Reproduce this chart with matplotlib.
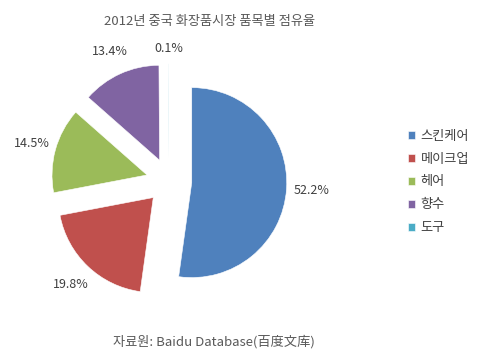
import matplotlib
matplotlib.use("Agg")
import matplotlib.pyplot as plt

plt.rcParams['font.family'] = ['Noto Sans CJK KR', 'DejaVu Sans']

# 데이터
categories = ["스킨케어", "메이크업", "헤어", "향수", "도구"]
shares = [52.2, 19.8, 14.5, 13.4, 0.1]
colors = ["#4F81BD", "#C0504D", "#9BBB59", "#8064A2", "#4BACC6"]
title = "2012년 중국 화장품시장 품목별 점유율"
source = "자료원: Baidu Database(百度文库)"

fig = plt.figure(figsize=(4.85, 3.61), dpi=100)
ax = fig.add_axes([17 / 485, 28 / 361, 304 / 485, 304 / 361])

wedges, texts, autotexts = ax.pie(
    shares,
    colors=colors,
    explode=[0.24] * len(shares),
    startangle=90,
    counterclock=False,
    autopct="%.1f%%",
    pctdistance=1.26,
    radius=1.0,
    wedgeprops=dict(linewidth=0.4, edgecolor="white"),
    textprops=dict(fontsize=9, color="#404040"),
)
# 0.1% 라벨은 조금 더 안쪽
autotexts[-1].set_y(autotexts[-1].get_position()[1] - 0.1)
ax.set_xlim(-1.6, 1.6)
ax.set_ylim(-1.6, 1.6)
ax.axis("off")

fig.text(210 / 485, 340 / 361, title, ha="center", va="center",
         fontsize=9.5, color="#595959")
fig.text(214 / 485, 19 / 361, source, ha="center", va="center",
         fontsize=9.5, color="#595959")

fig.legend(wedges, categories, loc="center left",
           bbox_to_anchor=(396 / 485, 179 / 361), frameon=False,
           fontsize=9.5, handlelength=0.55, handleheight=0.55,
           handletextpad=0.4, labelspacing=0.75, labelcolor="#404040")

fig.savefig("out.png", dpi=100)
